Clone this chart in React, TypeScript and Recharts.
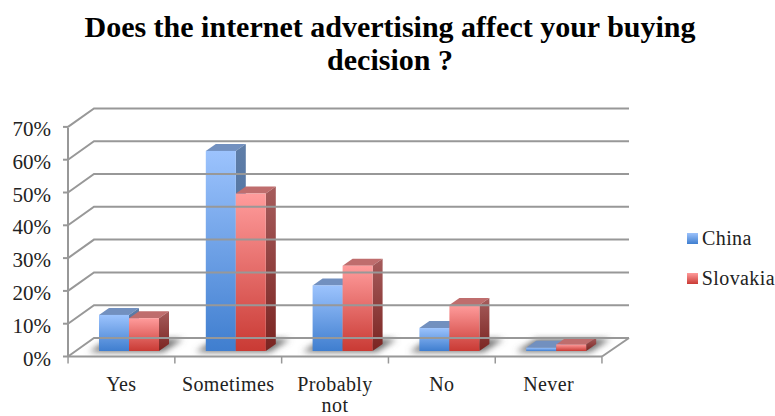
import { BarChart, Bar, XAxis, YAxis, Legend } from "recharts";

const categories = ["Yes", "Sometimes", "Probably not", "No", "Never"];
const china = [11, 61, 20, 7, 1];
const slovakia = [10, 48, 26, 14, 2];
const yTicks = [0, 10, 20, 30, 40, 50, 60, 70];

const data = categories.map((name, i) => ({ name, China: china[i], Slovakia: slovakia[i] }));

const FONT = "'Liberation Serif', serif";
const GRID = "#989898";
// offsets of the fake 3D box relative to the plot area
const FRONT_DY = 5.5;
const BACK_DY = -13;
const FRONT_LEFT = 68;
const BACK_LEFT = 94;
const FRONT_RIGHT = 602;
const BACK_RIGHT = 629;
const FRONT_DX = -8;
const STEP = 106.7;
const DEPTH_X = 10;
const DEPTH_Y = 7;

const YTick = ({ y, payload }: any) => {
  const fy = y + FRONT_DY;
  const by = y + BACK_DY;
  const isBase = payload.value === 0;
  return (
    <g>
      {isBase && (
        <g stroke={GRID} strokeWidth={2} fill="none">
          <line x1={FRONT_LEFT} y1={fy - 229} x2={FRONT_LEFT} y2={fy} />
          <line x1={FRONT_LEFT} y1={fy} x2={FRONT_RIGHT} y2={fy} />
          <line x1={FRONT_RIGHT} y1={fy} x2={BACK_RIGHT} y2={by} />
        </g>
      )}
      <polyline points={`${FRONT_LEFT},${fy} ${BACK_LEFT},${by} ${BACK_RIGHT},${by}`} fill="none" stroke={GRID} strokeWidth={2} />
      <line x1={63} y1={fy} x2={FRONT_LEFT} y2={fy} stroke={GRID} strokeWidth={2} />
      <text x={51} y={fy + 9} textAnchor="end" fontFamily={FONT} fontSize={21} fill="#222">
        {payload.value}%
      </text>
    </g>
  );
};

const XTick = ({ x, y, payload, index }: any) => {
  const cx = x + FRONT_DX;
  const base = y + FRONT_DY;
  const words = payload.value === "Probably not" ? ["Probably", "not"] : [payload.value];
  return (
    <g>
      <line x1={cx - STEP / 2} y1={base} x2={cx - STEP / 2} y2={base + 7} stroke={GRID} strokeWidth={1.5} />
      {index === categories.length - 1 && (
        <line x1={cx + STEP / 2} y1={base} x2={cx + STEP / 2} y2={base + 7} stroke={GRID} strokeWidth={1.5} />
      )}
      {words.map((w: string, i: number) => (
        <text key={w} x={cx} y={y + 40 + i * 21} textAnchor="middle" fontFamily={FONT} fontSize={20} letterSpacing={0.4} fill="#222">
          {w}
        </text>
      ))}
    </g>
  );
};

const Box3D = ({ x, y, width, height, id, top, side, withShadow }: any) => {
  const b = y + height;
  const r = x + width;
  return (
    <g>
      {withShadow && (
        <polygon
          points={`${x - 10},${b + 1} ${x + 2 * width + 4},${b + 1} ${x + 2 * width + 24},${b - 12} ${x + 10},${b - 12}`}
          fill="#6f6f6f"
          filter="url(#floorShadow)"
        />
      )}
      <polygon points={`${x},${y} ${x + DEPTH_X},${y - DEPTH_Y} ${r + DEPTH_X},${y - DEPTH_Y} ${r},${y}`} fill={top} />
      <polygon points={`${r},${y} ${r + DEPTH_X},${y - DEPTH_Y} ${r + DEPTH_X},${b - DEPTH_Y} ${r},${b}`} fill={side} />
      <rect x={x} y={y} width={width} height={height} fill={`url(#${id})`} />
    </g>
  );
};

const swatches: Record<string, string> = {
  China: "linear-gradient(#9cc2fb, #3f7ecf)",
  Slovakia: "linear-gradient(#ff9b9b, #c93a34)",
};

const LegendContent = ({ payload }: any) => (
  <div style={{ fontFamily: FONT, fontSize: 20, letterSpacing: 0.4, color: "#222" }}>
    {(payload || []).map((p: any) => (
      <div key={p.value} style={{ display: "flex", alignItems: "center", height: 40 }}>
        <span style={{ width: 11, height: 11, marginRight: 4, background: swatches[p.value] }} />
        {p.value}
      </div>
    ))}
  </div>
);

export default function App() {
  return (
    <div style={{ position: "absolute", left: 0, top: 0, width: 775, height: 416, background: "#fff" }}>
      <div
        style={{
          position: "absolute",
          left: 0,
          top: 10,
          width: 780,
          textAlign: "center",
          fontFamily: FONT,
          fontWeight: "bold",
          fontSize: 30,
          lineHeight: "33px",
          color: "#000",
        }}
      >
        Does the internet advertising affect your buying
        <br />
        decision ?
      </div>
      <BarChart
        width={775}
        height={416}
        data={data}
        margin={{ top: 121.4, right: 77, bottom: 64, left: 75 }}
        barCategoryGap={23}
        barGap={0}
        style={{ position: "absolute", left: 0, top: 0 }}
      >
        <defs>
          <linearGradient id="chinaFill" x1="0" y1="0" x2="0" y2="1">
            <stop offset="0%" stopColor="#9cc3fd" />
            <stop offset="100%" stopColor="#3f7ecf" />
          </linearGradient>
          <linearGradient id="slovakiaFill" x1="0" y1="0" x2="0" y2="1">
            <stop offset="0%" stopColor="#ff9c9c" />
            <stop offset="100%" stopColor="#c93a34" />
          </linearGradient>
          <linearGradient id="chinaSide" x1="0" y1="0" x2="0" y2="1">
            <stop offset="0%" stopColor="#5f7ea8" />
            <stop offset="100%" stopColor="#3c6499" />
          </linearGradient>
          <linearGradient id="slovakiaSide" x1="0" y1="0" x2="0" y2="1">
            <stop offset="0%" stopColor="#a65c5c" />
            <stop offset="100%" stopColor="#7a2421" />
          </linearGradient>
          <filter id="floorShadow" x="-20%" y="-50%" width="140%" height="200%">
            <feGaussianBlur stdDeviation="3" />
          </filter>
        </defs>
        <YAxis
          width={1}
          domain={[0, 70]}
          ticks={yTicks}
          axisLine={false}
          tickLine={false}
          tickSize={0}
          tickMargin={0}
          tick={<YTick />}
          interval={0}
        />
        <XAxis
          dataKey="name"
          height={1}
          axisLine={false}
          tickLine={false}
          tickSize={0}
          tickMargin={0}
          tick={<XTick />}
          interval={0}
        />
        <Legend
          layout="vertical"
          align="right"
          verticalAlign="top"
          content={<LegendContent />}
          wrapperStyle={{ left: 687, top: 218, width: 88 }}
        />
        <Bar
          dataKey="China"
          isAnimationActive={false}
          shape={(p: any) => <Box3D {...p} id="chinaFill" top="#7290bf" side="url(#chinaSide)" withShadow />}
        />
        <Bar
          dataKey="Slovakia"
          isAnimationActive={false}
          shape={(p: any) => <Box3D {...p} id="slovakiaFill" top="#bf6d6d" side="url(#slovakiaSide)" />}
        />
      </BarChart>
    </div>
  );
}
